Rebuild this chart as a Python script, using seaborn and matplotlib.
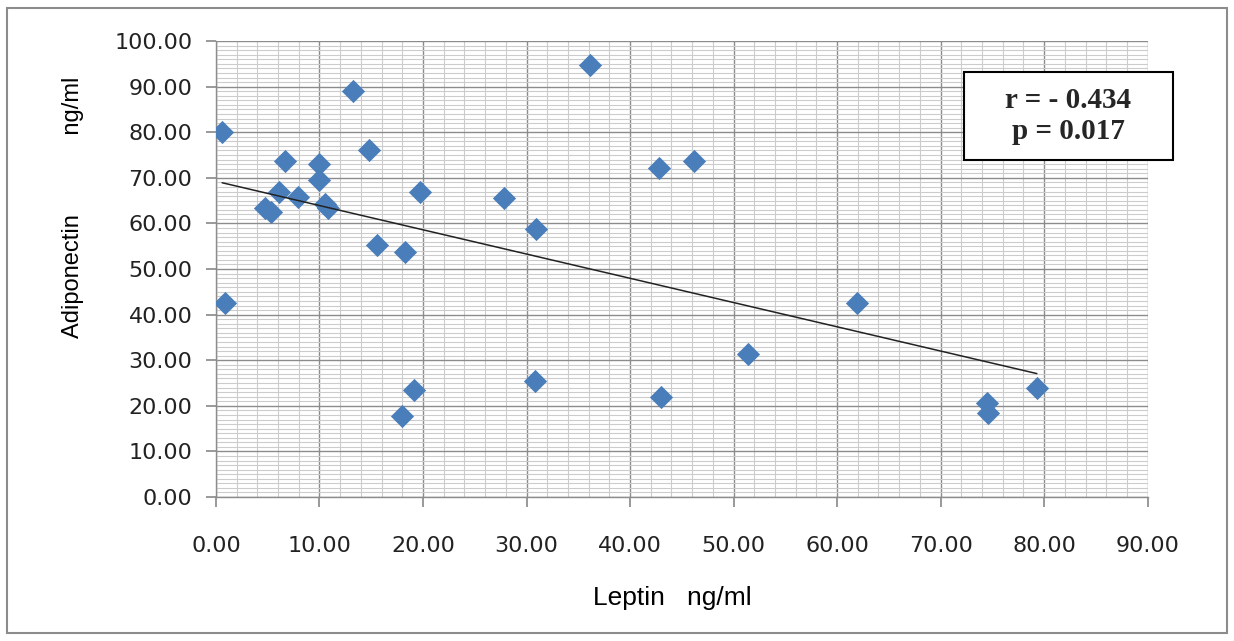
import matplotlib
matplotlib.use("Agg")
import matplotlib.pyplot as plt
from matplotlib.patches import Rectangle
from matplotlib.ticker import MultipleLocator, FormatStrFormatter
import numpy as np
import pandas as pd
import seaborn as sns

# Leptin (x) and Adiponectin (y), ng/ml
leptin = [0.6, 0.9, 4.7, 5.3, 6.1, 6.7, 7.9, 10.0, 10.0, 10.5, 10.8, 13.2,
          14.8, 15.6, 18.3, 18.0, 19.1, 19.7, 27.8, 30.9, 30.8, 36.1, 42.8,
          46.2, 43.0, 51.4, 61.9, 74.5, 74.6, 79.3]
adiponectin = [80.0, 42.5, 63.4, 62.5, 66.9, 73.7, 65.8, 73.0, 69.5, 64.3,
               63.4, 89.0, 76.1, 55.3, 53.7, 17.8, 23.5, 66.9, 65.6, 58.8,
               25.4, 94.7, 72.1, 73.7, 21.9, 31.4, 42.5, 20.6, 18.4, 23.9]
stats_text = "r = - 0.434\np = 0.017"

df = pd.DataFrame({"Leptin": leptin, "Adiponectin": adiponectin})

sns.set_theme(style="white")
plt.rcParams["font.family"] = ["DejaVu Sans"]

fig = plt.figure(figsize=(12.34, 6.41), dpi=100)
ax = fig.add_axes([0.175, 0.2246, 0.755, 0.7114])

sns.regplot(data=df, x="Leptin", y="Adiponectin", ax=ax, ci=None,
            marker="D",
            scatter_kws={"s": 140, "color": "#4a7ebb", "alpha": 1,
                         "linewidths": 0, "zorder": 3},
            line_kws={"color": "#222222", "linewidth": 1.1, "zorder": 4})

ax.set_xlim(0, 90)
ax.set_ylim(0, 100)
ax.xaxis.set_major_locator(MultipleLocator(10))
ax.xaxis.set_minor_locator(MultipleLocator(2))
ax.yaxis.set_major_locator(MultipleLocator(10))
ax.yaxis.set_minor_locator(MultipleLocator(1))
ax.xaxis.set_major_formatter(FormatStrFormatter("%.2f"))
ax.yaxis.set_major_formatter(FormatStrFormatter("%.2f"))

ax.set_axisbelow(True)
ax.grid(which="major", color="#8c8c8c", linewidth=1.0)
ax.grid(which="minor", color="#cccccc", linewidth=0.8)

for side in ["top", "right"]:
    ax.spines[side].set_visible(False)
for side in ["left", "bottom"]:
    ax.spines[side].set_color("#8c8c8c")
    ax.spines[side].set_linewidth(1.0)

ax.tick_params(axis="both", which="major", direction="out", color="#8c8c8c",
               labelsize=16, labelcolor="#222222")
ax.tick_params(axis="y", which="major", length=7, pad=10, left=True)
ax.tick_params(axis="x", which="major", length=7, pad=21, bottom=True)
ax.tick_params(which="minor", length=0)

ax.set_xlabel("Leptin   ng/ml", fontsize=19, family="Liberation Sans",
              color="black")
ax.set_ylabel("Adiponectin            ng/ml", fontsize=17,
              family="Liberation Sans", color="black")
ax.xaxis.set_label_coords(0.49, -0.195)
ax.yaxis.set_label_coords(-0.142, 0.636)

# stats box, sticking out past the right edge like the original
box = Rectangle((0.8026, 0.739), 0.2245, 0.193, transform=ax.transAxes,
                facecolor="white", edgecolor="black", linewidth=1.5,
                clip_on=False, zorder=5)
ax.add_patch(box)
ax.text(0.915, 0.8355, stats_text, transform=ax.transAxes, ha="center",
        va="center", fontsize=21, fontweight="bold", family="Liberation Serif",
        linespacing=1.15, zorder=6)

# outer chart frame
fig.patches.append(Rectangle((0.006, 0.012), 0.988, 0.975,
                             transform=fig.transFigure, fill=False,
                             edgecolor="#8c8c8c", linewidth=1.5))

fig.savefig("out.png", dpi=100)
